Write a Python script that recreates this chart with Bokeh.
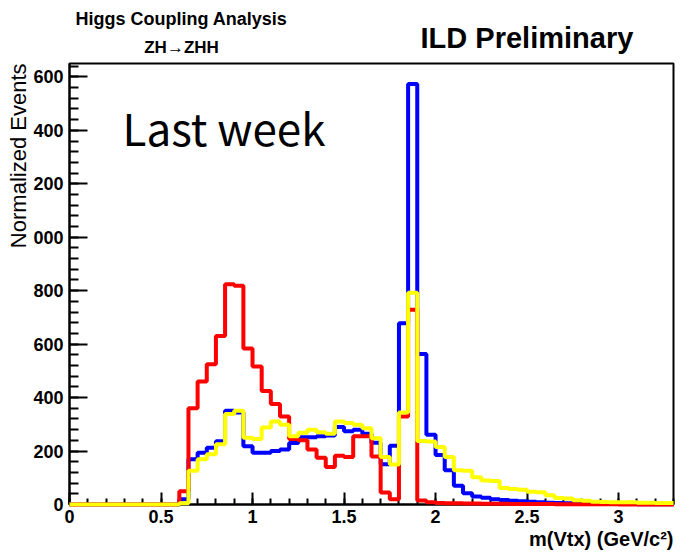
import numpy as np
from bokeh.plotting import figure
from bokeh.layouts import column
from bokeh.models import Range1d, Label, Title, CustomJSTickFormatter, SingleIntervalTicker
from bokeh.embed import file_html
from bokeh.resources import INLINE

# ---- data: histogram contents, 66 bins of width 0.05 GeV from 0 to 3.3 ----
bin_width = 0.05
n_bins = 66

blue_counts = [0] * 12 + [
    20, 169, 194, 212, 237, 351, 344, 218, 194, 194, 200, 206,
    230, 252, 252, 255, 258, 290, 274, 280, 265, 231, 151, 220,
    678, 1573, 563, 261, 185, 128, 70, 42, 30, 25,
    20, 17, 14, 12, 10, 8, 7, 6, 5, 4,
    4, 3, 3, 2, 2, 2, 1, 1, 1, 1]

red_counts = [0] * 12 + [
    50, 360, 460, 525, 630, 824, 818, 584, 516, 425, 376, 329,
    245, 240, 206, 175, 140, 182, 178, 255, 255, 180, 45, 20,
    329, 729, 15, 8, 6, 5, 5, 4, 4, 3,
    3, 3, 2, 2, 2, 2, 2, 1, 1, 1,
    1, 1, 1, 1, 0, 0, 0, 0, 0, 0]

yellow_counts = [0] * 12 + [
    5, 126, 169, 188, 225, 339, 351, 250, 245, 288, 311, 298,
    255, 268, 280, 270, 265, 311, 305, 298, 285, 248, 178, 150,
    344, 792, 238, 236, 215, 178, 128, 126, 102, 90,
    88, 62, 58, 55, 48, 46, 35, 24, 22, 16,
    14, 10, 9, 8, 8, 8, 7, 7, 6, 6]

x_title = "m(Vtx) (GeV/c\u00b2)"
y_title = "Normalized Events"
title_left_1 = "Higgs Coupling Analysis"
title_left_2 = "ZH\u2192ZHH"
title_right = "ILD Preliminary"
note = "Last week"

edges = [i * bin_width for i in range(n_bins + 1)]

W = 675
HEAD_H = 61
BORDER_L = 69
BORDER_R = 2

# ---- header strip (texts above the frame) ----
head = figure(width=W, height=HEAD_H, output_backend="svg", toolbar_location=None, title=None,
              x_range=Range1d(0, 3.3), y_range=Range1d(0, HEAD_H),
              min_border_left=BORDER_L, min_border_right=BORDER_R,
              min_border_top=0, min_border_bottom=0)
head.axis.visible = False
head.grid.visible = False
head.outline_line_color = None
head.background_fill_color = "white"
head.border_fill_color = "white"


def hlabel(x, y, text, size, align="left"):
    head.add_layout(Label(x=x, y=y, text=text, text_align=align, text_baseline="alphabetic",
                          text_font="Liberation Sans", text_font_style="bold",
                          text_font_size=size, text_color="black"))


hlabel(0.612, 43, title_left_1, "18px", align="center")
hlabel(0.612, 14, title_left_2, "17px", align="center")
hlabel(1.918, 24, title_right, "29px")

# ---- main histogram plot ----
p = figure(width=W, height=490, output_backend="svg", toolbar_location=None, title=None,
           x_range=Range1d(0, 3.3), y_range=Range1d(0, 1650),
           min_border_left=BORDER_L, min_border_right=BORDER_R,
           min_border_top=2, min_border_bottom=47)
p.background_fill_color = "white"
p.border_fill_color = "white"
p.grid.visible = False
p.outline_line_color = "black"
p.outline_line_width = 2

for counts, color in [(blue_counts, "#0000ff"), (red_counts, "#ff0000"), (yellow_counts, "#ffff00")]:
    ys = list(counts) + [counts[-1]]
    r = p.step(edges, ys, mode="after", line_color=color, line_width=4)
    r.level = "overlay"

p.xaxis.ticker = SingleIntervalTicker(interval=0.5, num_minor_ticks=5)
p.yaxis.ticker = SingleIntervalTicker(interval=200, num_minor_ticks=5)
p.xaxis.formatter = CustomJSTickFormatter(code="return String(Math.round(tick*10)/10);")
p.yaxis.formatter = CustomJSTickFormatter(
    code="const s = String(Math.round(tick)); return s.length > 3 ? s.slice(s.length - 3) : s;")
for ax in (p.xaxis, p.yaxis):
    ax.axis_line_width = 2
    ax.axis_line_color = "black"
    ax.major_tick_out = 0
    ax.minor_tick_out = 0
    ax.major_tick_line_width = 2
    ax.minor_tick_line_width = 2
    ax.major_label_text_font = "Liberation Sans"
    ax.major_label_text_font_style = "bold"
    ax.major_label_text_font_size = "18px"
    ax.major_label_text_color = "black"
p.yaxis.major_label_standoff = 6
p.xaxis.major_label_standoff = 5
p.xaxis.major_tick_in = 12
p.xaxis.minor_tick_in = 6
p.yaxis.major_tick_in = 18
p.yaxis.minor_tick_in = 9

# axis titles as side-panel titles aligned to the far end of each axis
y_t = Title(text=y_title, align="right", text_font="Liberation Sans", text_font_style="normal",
            text_font_size="22px", text_color="black")
y_t.standoff = 0
p.add_layout(y_t, "left")
x_t = Title(text=x_title, align="right", text_font="Liberation Sans", text_font_style="bold",
            text_font_size="20px", text_color="black")
x_t.standoff = 0
p.add_layout(x_t, "below")

p.add_layout(Label(x=0.29, y=1414, text=note, text_align="left",
                   text_baseline="alphabetic", text_font="Noto Sans CJK JP",
                   text_font_size="44px", text_color="black"))

layout = column(head, p, spacing=0)
open("out.html", "w").write(file_html(layout, INLINE))
